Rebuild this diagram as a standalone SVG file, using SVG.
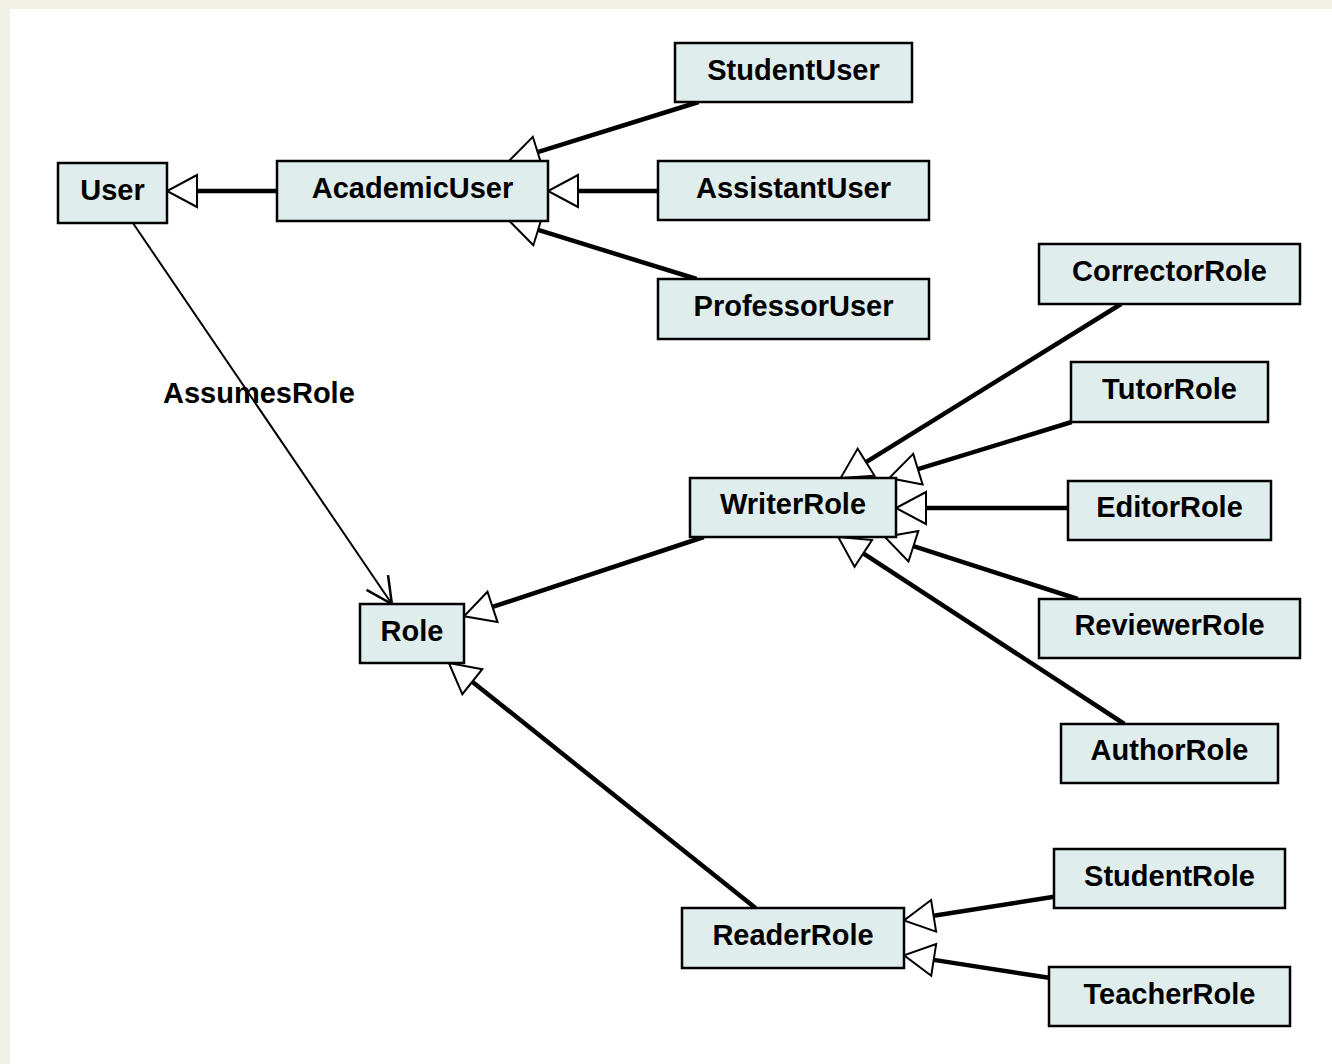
<svg xmlns="http://www.w3.org/2000/svg" width="1332" height="1064" viewBox="0 0 1332 1064">
<style>
.box{fill:#E0EDED;stroke:#000;stroke-width:2.5}
.lbl{font-family:"Liberation Sans",Arial,sans-serif;font-weight:bold;font-size:29px;fill:#000;text-anchor:middle}
.gen{fill:none;stroke:#000;stroke-width:4.5;marker-end:url(#genArrow)}
.assoc{fill:none;stroke:#000;stroke-width:2;marker-end:url(#openArrow)}
.elbl{font-family:"Liberation Sans",Arial,sans-serif;font-weight:bold;font-size:29px;fill:#000}
</style>
<defs>
<marker id="genArrow" markerUnits="userSpaceOnUse" viewBox="-2 -18 34 36" markerWidth="34" markerHeight="36" refX="0" refY="0" orient="auto" overflow="visible">
<path d="M0,-16 L30,0 L0,16 Z" fill="#fff" stroke="#000" stroke-width="2" stroke-linejoin="miter"/>
</marker>
<marker id="openArrow" markerUnits="userSpaceOnUse" viewBox="-30 -16 32 32" markerWidth="32" markerHeight="32" refX="0" refY="0" orient="auto" overflow="visible">
<path d="M-26,-13 L0,0 L-26,13" fill="none" stroke="#000" stroke-width="2.5"/>
</marker>
</defs>
<rect x="0" y="0" width="1332" height="1064" fill="#F1F1E6"/>
<rect x="10" y="9" width="1322" height="1055" fill="#fff"/>

<g id="connectors">
<line class="gen" x1="277" y1="191" x2="197" y2="191"/>
<line class="gen" x1="698.6" y1="102" x2="537.6" y2="152.1"/>
<line class="gen" x1="658" y1="191" x2="578" y2="191"/>
<line class="gen" x1="696.6" y1="279" x2="538.1" y2="229.9"/>
<line class="gen" x1="703.8" y1="537" x2="492.5" y2="606.9"/>
<line class="gen" x1="755.5" y1="908" x2="472.3" y2="681.7"/>
<line class="gen" x1="1121.1" y1="304" x2="866.1" y2="462.2"/>
<line class="gen" x1="1071.7" y1="422" x2="917.9" y2="469.2"/>
<line class="gen" x1="1068" y1="508" x2="926" y2="508"/>
<line class="gen" x1="1077.7" y1="599" x2="913.4" y2="546.2"/>
<line class="gen" x1="1124.4" y1="724" x2="863.3" y2="553.4"/>
<line class="gen" x1="1054" y1="896.8" x2="933.6" y2="915.8"/>
<line class="gen" x1="1049" y1="977.8" x2="933.7" y2="959.9"/>
<line class="assoc" x1="132.9" y1="223" x2="391.9" y2="604"/>
<text class="elbl" x="163" y="403">AssumesRole</text>
</g>

<g id="User"><rect class="box" x="58" y="163" width="109" height="60"/><text class="lbl" x="112.5" y="200">User</text></g>
<g id="AcademicUser"><rect class="box" x="277" y="161" width="271" height="60"/><text class="lbl" x="412.5" y="198">AcademicUser</text></g>
<g id="StudentUser"><rect class="box" x="675" y="43" width="237" height="59"/><text class="lbl" x="793.5" y="80">StudentUser</text></g>
<g id="AssistantUser"><rect class="box" x="658" y="161" width="271" height="59"/><text class="lbl" x="793.5" y="198">AssistantUser</text></g>
<g id="ProfessorUser"><rect class="box" x="658" y="279" width="271" height="60"/><text class="lbl" x="793.5" y="316">ProfessorUser</text></g>
<g id="Role"><rect class="box" x="360" y="604" width="104" height="59"/><text class="lbl" x="412" y="641">Role</text></g>
<g id="WriterRole"><rect class="box" x="690" y="478" width="206" height="59"/><text class="lbl" x="793" y="514">WriterRole</text></g>
<g id="ReaderRole"><rect class="box" x="682" y="908" width="222" height="60"/><text class="lbl" x="793" y="945">ReaderRole</text></g>
<g id="CorrectorRole"><rect class="box" x="1039" y="244" width="261" height="60"/><text class="lbl" x="1169.5" y="281">CorrectorRole</text></g>
<g id="TutorRole"><rect class="box" x="1071" y="362" width="197" height="60"/><text class="lbl" x="1169.5" y="399">TutorRole</text></g>
<g id="EditorRole"><rect class="box" x="1068" y="481" width="203" height="59"/><text class="lbl" x="1169.5" y="517">EditorRole</text></g>
<g id="ReviewerRole"><rect class="box" x="1039" y="599" width="261" height="59"/><text class="lbl" x="1169.5" y="635">ReviewerRole</text></g>
<g id="AuthorRole"><rect class="box" x="1061" y="724" width="217" height="59"/><text class="lbl" x="1169.5" y="760">AuthorRole</text></g>
<g id="StudentRole"><rect class="box" x="1054" y="849" width="231" height="59"/><text class="lbl" x="1169.5" y="886">StudentRole</text></g>
<g id="TeacherRole"><rect class="box" x="1049" y="967" width="241" height="59"/><text class="lbl" x="1169.5" y="1004">TeacherRole</text></g>
</svg>
